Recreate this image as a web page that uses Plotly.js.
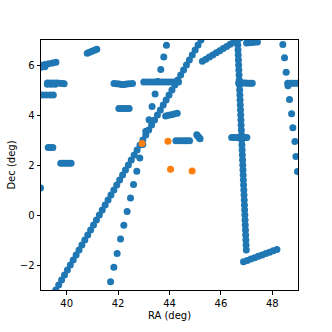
<!DOCTYPE html>
<html>
<head>
<meta charset="utf-8">
<script src="https://cdn.plot.ly/plotly-3.0.1.min.js"></script>
<style>
  html, body { margin: 0; padding: 0; background: #ffffff; }
  #chart { width: 332px; height: 332px; }
</style>
</head>
<body>
<div id="chart"></div>
<script>
// [RA, Dec] pairs, one array per streak / clump
const mainStreak = [
    [39.462,-3.2],[39.575,-3.0],[39.688,-2.8],[39.801,-2.6],[39.914,-2.4],[40.027,-2.2],
    [40.140,-2.0],[40.253,-1.8],[40.366,-1.6],[40.479,-1.4],[40.592,-1.2],[40.705,-1.0],
    [40.818,-0.8],[40.931,-0.6],[41.044,-0.4],[41.157,-0.2],[41.270,0.0],[41.383,0.2],
    [41.496,0.4],[41.609,0.6],[41.722,0.8],[41.835,1.0],[41.948,1.2],[42.061,1.4],
    [42.174,1.6],[42.287,1.8],[42.400,2.0],[42.513,2.2],[42.626,2.4],[42.739,2.6],
    [42.852,2.8],[42.965,3.0],[43.078,3.2],[43.191,3.4],[43.304,3.6],[43.417,3.8],
    [43.530,4.0],[43.643,4.2],[43.756,4.4],[43.869,4.6],[43.982,4.8],[44.095,5.0],
    [44.208,5.2],[44.321,5.4],[44.434,5.6],[44.547,5.8],[44.660,6.0],[44.773,6.2],
    [44.886,6.4],[44.999,6.6],[45.112,6.8],[45.225,7.0],[45.338,7.2]
];
const dottedStreak = [
    [41.707,-2.669],[41.835,-2.094],[41.963,-1.535],[42.095,-0.964],[42.223,-0.405],
    [42.351,0.142],[42.483,0.685],[42.600,1.220],[42.728,1.750],[42.845,2.281],
    [42.961,2.82],[43.078,3.355],[43.206,3.814],[43.322,4.345],[43.439,4.844],
    [43.544,5.343],[43.660,5.822],[43.777,6.321],[43.882,6.792]
];
const rightDots = [
    [48.41,6.82],[48.476,6.29],[48.54,5.71],[48.61,5.17],[48.67,4.625],
    [48.75,4.054],[48.80,3.495],[48.88,2.94],[48.92,2.34],[48.98,1.74]
];
const verticalStreak = [
    [46.646,7.1],[46.650,7.0],[46.658,6.8],[46.666,6.6],[46.674,6.4],[46.682,6.2],
    [46.690,6.0],[46.698,5.8],[46.706,5.6],[46.714,5.4],[46.722,5.2],[46.730,5.0],
    [46.738,4.8],[46.746,4.6],[46.755,4.4],[46.763,4.2],[46.771,4.0],[46.779,3.8],
    [46.787,3.6],[46.795,3.4],[46.803,3.2],[46.811,3.0],[46.819,2.8],[46.827,2.6],
    [46.835,2.4],[46.843,2.2],[46.851,2.0],[46.859,1.8],[46.867,1.6],[46.875,1.4],
    [46.883,1.2],[46.892,1.0],[46.900,0.8],[46.908,0.6],[46.916,0.4],[46.924,0.2],
    [46.932,0.0],[46.940,-0.2],[46.948,-0.4],[46.956,-0.6],[46.964,-0.8],[46.972,-1.0],
    [46.980,-1.2],[46.988,-1.4]
];
const upperRightStreak = [
    [45.28,6.15],[45.415,6.235],[45.55,6.32],[45.685,6.405],[45.82,6.49],[45.955,6.575],
    [46.09,6.66],[46.225,6.745],[46.36,6.83],[46.495,6.915],[46.63,7.0],[46.765,7.085]
];
const lowerRightStreak = [
    [46.88,-1.87],[47.024,-1.816],[47.169,-1.761],[47.313,-1.707],[47.458,-1.652],
    [47.602,-1.598],[47.747,-1.543],[47.891,-1.489],[48.036,-1.434],[48.18,-1.38]
];
const topClump = [[47.0,6.88],[47.1,6.89],[47.2,6.9],[47.3,6.91],[47.42,6.92]];
const clump528 = [[46.69,5.28],[46.78,5.28],[46.87,5.28],[46.96,5.28],[47.05,5.27],[47.14,5.27],[47.22,5.27]];
const clump310 = [[46.42,3.1],[46.52,3.1],[46.62,3.1],[46.72,3.1],[46.82,3.1],[46.92,3.1],[47.01,3.1]];
const rightEdgeClump = [[48.6,5.27],[48.7,5.27],[48.8,5.27],[48.9,5.27],[49.0,5.27],[49.1,5.27]];
const clumpA = [[38.85,5.97],[39.0,5.99],[39.15,6.02],[39.3,6.05],[39.45,6.08],[39.58,6.11],[39.0,5.91],[39.15,5.93]];
const clumpB = [[39.25,5.28],[39.37,5.28],[39.49,5.28],[39.61,5.28],[39.73,5.27],[39.83,5.26],[39.9,5.25],[39.25,5.23],[39.4,5.23],[39.55,5.23]];
const clumpC = [[38.9,4.8],[39.05,4.8],[39.2,4.8],[39.35,4.8],[39.48,4.8]];
const clumpD = [[40.8,6.47],[40.89,6.51],[40.98,6.55],[41.08,6.59],[41.17,6.63]];
const clumpE = [[41.84,5.26],[41.94,5.25],[42.04,5.24],[42.14,5.22],[42.24,5.22],[42.34,5.24],[42.44,5.25],[42.56,5.26]];
const clumpF = [[43.0,5.32],[43.12,5.32],[43.24,5.32],[43.36,5.32],[43.48,5.32],[43.6,5.32],[43.72,5.32],[43.84,5.32],[43.96,5.32],[44.08,5.32],[44.2,5.32],[44.35,5.32]];
const clumpG = [[42.03,4.26],[42.13,4.26],[42.23,4.26],[42.33,4.26],[42.43,4.26]];
const clumpH = [[43.85,3.96],[43.96,3.99],[44.07,4.01],[44.18,4.04],[44.3,4.07]];
const clumpI = [[44.25,2.97],[44.36,2.97],[44.47,2.97],[44.58,2.97],[44.68,2.97],[44.78,2.97]];
const clumpJ = [[45.06,3.21],[45.1,3.16],[45.15,3.1],[45.19,3.05]];
const clumpK = [[39.28,2.7],[39.37,2.7],[39.46,2.7]];
const clumpL = [[39.77,2.07],[39.87,2.07],[39.97,2.07],[40.07,2.07],[40.17,2.07]];
const loneDot = [[38.98,1.08]];

const orangeRa = [42.93, 43.94, 44.04, 44.88];
const orangeDec = [2.86, 2.95, 1.83, 1.76];

const blueGroups = [mainStreak, dottedStreak, rightDots, verticalStreak, upperRightStreak,
    lowerRightStreak, topClump, clump528, clump310, rightEdgeClump, clumpA, clumpB, clumpC,
    clumpD, clumpE, clumpF, clumpG, clumpH, clumpI, clumpJ, clumpK, clumpL, loneDot];

const blueRa = [];
const blueDec = [];
blueGroups.forEach(g => g.forEach(p => { blueRa.push(p[0]); blueDec.push(p[1]); }));

const axisStyle = {
    showgrid: false,
    zeroline: false,
    showline: true,
    mirror: true,
    linecolor: '#000000',
    linewidth: 1,
    ticks: 'outside',
    ticklen: 3.5,
    tickwidth: 1,
    tickcolor: '#000000',
    dtick: 2,
    tickfont: {size: 10, color: '#000000'},
};

Plotly.newPlot('chart', [
    {x: blueRa, y: blueDec, mode: 'markers', type: 'scatter',
     marker: {color: '#1f77b4', size: 7, line: {width: 0}}},
    {x: orangeRa, y: orangeDec, mode: 'markers', type: 'scatter',
     marker: {color: '#ff7f0e', size: 7, line: {width: 0}}},
], {
    width: 332,
    height: 332,
    margin: {l: 41, r: 34, t: 40, b: 42},
    showlegend: false,
    plot_bgcolor: '#ffffff',
    paper_bgcolor: '#ffffff',
    font: {family: 'DejaVu Sans', size: 10, color: '#000000'},
    xaxis: Object.assign({}, axisStyle, {
        range: [39, 49],
        tick0: 40,
        title: {text: 'RA (deg)', font: {size: 10}, standoff: 4},
    }),
    yaxis: Object.assign({}, axisStyle, {
        range: [-3, 7],
        tick0: 0,
        title: {text: 'Dec (deg)', font: {size: 10}, standoff: 2},
    }),
}, {displayModeBar: false, staticPlot: true});
</script>
</body>
</html>
